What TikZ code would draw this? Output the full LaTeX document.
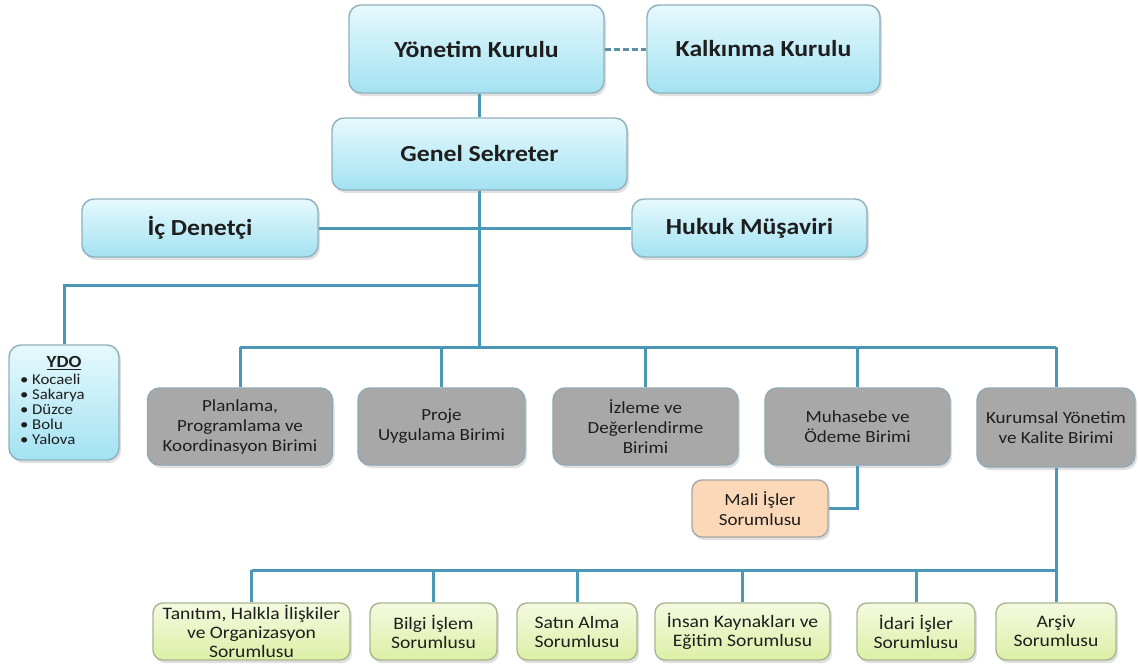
\documentclass[tikz,border=0pt]{standalone}
\usepackage{fontspec}
\setmainfont{Carlito}[FakeStretch=1.12]
\usetikzlibrary{shadows}
\definecolor{bluetop}{HTML}{E6F9FD}
\definecolor{bluebot}{HTML}{A3E2F2}
\definecolor{bordblue}{HTML}{8FB0BC}
\definecolor{greyfill}{HTML}{A8A8A8}
\definecolor{greybord}{HTML}{90A8B3}
\definecolor{peach}{HTML}{FBD8B8}
\definecolor{peachbord}{HTML}{A8A8A8}
\definecolor{greentop}{HTML}{F4FAE0}
\definecolor{greenbot}{HTML}{DDEFA6}
\definecolor{greenbord}{HTML}{A8B590}
\definecolor{linec}{HTML}{4A97B6}
\definecolor{txt}{HTML}{1E1E1E}
\begin{document}
\begin{tikzpicture}[x=1pt,y=-1pt,
  box/.style={rounded corners=12pt, line width=1.4pt, align=center, inner sep=2pt, text=txt,
    drop shadow={opacity=0.25, shadow xshift=2pt, shadow yshift=-3pt}},
  bluebox/.style={box, draw=bordblue, top color=bluetop, bottom color=bluebot,
    font=\fontsize{23}{27}\selectfont\bfseries},
  ydobox/.style={box, draw=bordblue, top color=bluetop, bottom color=bluebot,
    font=\fontsize{15}{15}\selectfont},
  greybox/.style={box, draw=greybord, fill=greyfill, font=\fontsize{17}{20}\selectfont,
    minimum height=77pt},
  peachbox/.style={box, rounded corners=10pt, draw=peachbord, fill=peach, font=\fontsize{17}{20}\selectfont},
  greenbox/.style={box, rounded corners=10pt, draw=greenbord, top color=greentop, bottom color=greenbot,
    font=\fontsize{17.5}{19}\selectfont, minimum height=57pt},
  conn/.style={line width=3pt, draw=linec},
]
\useasboundingbox[fill=white] (0,0) rectangle (1138,667);

% top level
\node[bluebox, minimum width=255pt, minimum height=88pt] (yk) at (476.5,49) {Yönetim Kurulu};
\node[bluebox, minimum width=233pt, minimum height=88pt] (kk) at (763.5,49) {Kalkınma Kurulu};
\node[bluebox, minimum width=295pt, minimum height=72pt] (gs) at (479.5,154) {Genel Sekreter};
\node[bluebox, minimum width=236pt, minimum height=58pt] (ic) at (200,228) {İç Denetçi};
\node[bluebox, minimum width=235pt, minimum height=58pt] (hm) at (749.5,228) {Hukuk Müşaviri};

% YDO
\node[ydobox, minimum width=110pt, minimum height=115pt, inner sep=0pt] (ydo) at (64,402.5)
  {\begin{tabular}{@{}p{88pt}@{}}\multicolumn{1}{@{}c@{}}{\fontsize{17}{18}\selectfont\bfseries\underline{YDO}}\\[2pt]
   • Kocaeli\\ • Sakarya\\ • Düzce\\ • Bolu\\ • Yalova\end{tabular}};

% units
\node[greybox, minimum width=185pt] (pl) at (240,426.5) {Planlama,\\Programlama ve\\Koordinasyon Birimi};
\node[greybox, minimum width=167pt] (pr) at (441.5,426.5) {Proje\\Uygulama Birimi};
\node[greybox, minimum width=185pt] (iz) at (645.5,426.5) {İzleme ve\\Değerlendirme\\Birimi};
\node[greybox, minimum width=185pt] (mu) at (857.5,426.5) {Muhasebe ve\\Ödeme Birimi};
\node[greybox, minimum width=158pt, minimum height=79pt] (ku) at (1056,427.5) {Kurumsal Yönetim\\ve Kalite Birimi};
\node[peachbox, minimum width=136pt, minimum height=57pt] (ma) at (760,508.5) {Mali İşler\\Sorumlusu};

% bottom row
\node[greenbox, minimum width=197pt] (ta) at (251.5,631.5) {Tanıtım, Halkla İlişkiler\\ve Organizasyon\\Sorumlusu};
\node[greenbox, minimum width=127pt] (bi) at (433.5,631.5) {Bilgi İşlem\\Sorumlusu};
\node[greenbox, minimum width=120pt] (sa) at (577,631.5) {Satın Alma\\Sorumlusu};
\node[greenbox, minimum width=175pt] (in) at (742.5,631.5) {İnsan Kaynakları ve\\Eğitim Sorumlusu};
\node[greenbox, minimum width=118pt] (id) at (916,631.5) {İdari İşler\\Sorumlusu};
\node[greenbox, minimum width=120pt] (ar) at (1056,631.5) {Arşiv\\Sorumlusu};

% connectors
\coordinate (ydoj) at (479.5,285);
\coordinate (bus) at (479.5,347);
\coordinate (bot) at (1056,570);

\draw[line width=3pt, draw=linec!70!gray, dashed, dash pattern=on 6pt off 3pt] (yk.east) -- (kk.west);
\draw[conn] (gs.north |- yk.south) -- (gs.north);
\draw[conn] (ic.east) -- (hm.west);
\draw[conn] (gs.south) -- (bus);
\draw[conn] (ydoj) -| (ydo.north);
\draw[conn] (pl.north |- bus) -- (ku.north |- bus);
\foreach \n in {pl,pr,iz,mu,ku} \draw[conn] (\n.north |- bus) -- (\n.north);
\draw[conn] (mu.south) |- (ma.east);
\draw[conn] (ku.south) -- (bot);
\draw[conn] (ta.north |- bot) -- (bot);
\foreach \n in {ta,bi,sa,in,id,ar} \draw[conn] (\n.north |- bot) -- (\n.north);
\end{tikzpicture}
\end{document}
